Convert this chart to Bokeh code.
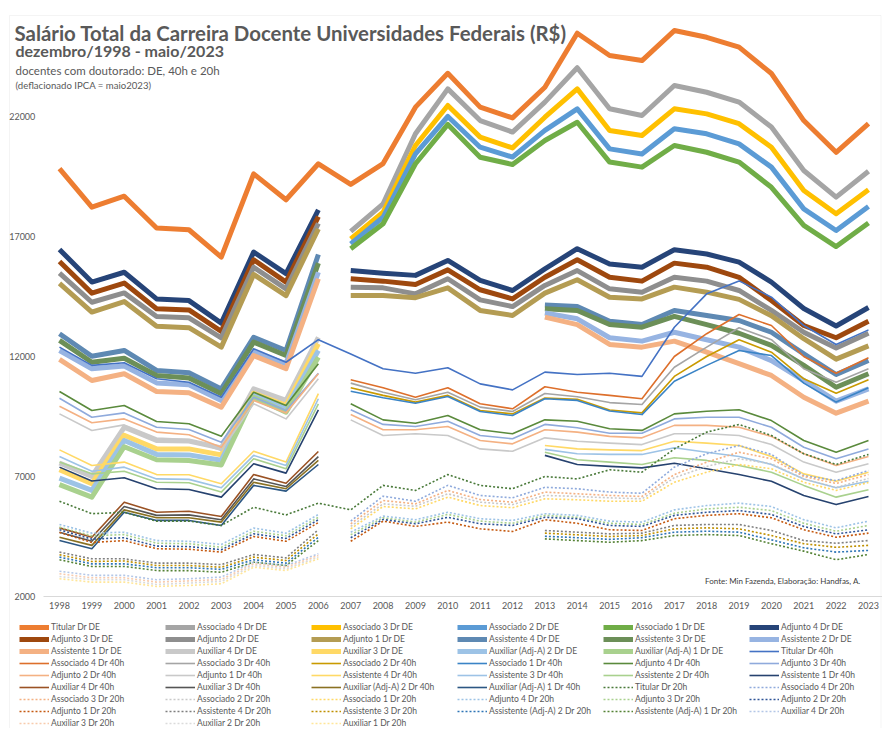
import math
from bokeh.plotting import figure
from bokeh.models import Range1d, FixedTicker, Legend, LegendItem, Label, BoxAnnotation
from bokeh.embed import file_html
from bokeh.resources import INLINE

years = list(range(1998, 2024))
N = None

# ---- DE (dedicação exclusiva) ----
titular_de = [19830, 18220, 18680, 17350, 17280, 16140, 19610, 18530, 20030,
              19170, 20040, 22390, 23800, 22390, 21940, 23220, 25470, 24540, 24330, 25580, 25300, 24890, 23790, 21830, 20510, 21700]
associado4_de = [N]*9 + [17210, 18360, 21280, 23150, 21830, 21350, 22600, 24030, 22320, 22040, 23290, 23010, 22600, 21560, 19750, 18640, 19720]
associado3_de = [N]*9 + [16900, 18010, 20790, 22460, 21140, 20690, 21970, 23150, 21420, 21210, 22320, 22110, 21700, 20720, 18920, 17950, 18950]
associado2_de = [N]*9 + [16690, 17800, 20440, 22000, 20720, 20310, 21420, 22320, 20650, 20440, 21490, 21280, 20860, 19890, 18150, 17250, 18250]
associado1_de = [N]*9 + [16490, 17530, 20030, 21670, 20300, 20000, 21000, 21760, 20100, 19890, 20790, 20510, 20100, 19050, 17460, 16580, 17560]
adjunto4_de = [16460, 15100, 15510, 14400, 14330, 13390, 16350, 15450, 18110,
               15580, 15470, 15380, 16000, 15170, 14750, 15650, 16490, 15850, 15720, 16450, 16270, 15930, 15100, 14000, 13270, 14040]
adjunto3_de = [15960, 14640, 15060, 13990, 13940, 13050, 16030, 15100, 17830,
               15240, 15140, 15000, 15610, 14780, 14400, 15300, 16030, 15300, 15140, 15890, 15720, 15300, 14330, 13290, 12780, 13470]
adjunto2_de = [15470, 14260, 14650, 13670, 13610, 12780, 15720, 14820, 17550,
               14890, 14860, 14610, 15240, 14360, 14080, 14960, 15580, 14820, 14680, 15300, 15140, 14750, 13920, 13010, 12350, 12970]
adjunto1_de = [15050, 13850, 14290, 13260, 13200, 12390, 15420, 14540, 17320,
               14540, 14540, 14450, 14860, 13920, 13710, 14640, 15200, 14470, 14400, 14890, 14680, 14380, 13700, 12740, 11890, 12440]
assistente4_de = [12950, 12010, 12250, 11420, 11320, 10650, 12800, 12250, 16250] + [N]*6 + [14150, 14080, 13470, 13330, 13920, 13710, 13500, 13010, 12110, 11250, 11830]
assistente3_de = [12670, 11760, 11930, 11210, 11100, 10450, 12600, 12040, 15890] + [N]*6 + [13990, 13920, 13330, 13220, 13670, 13330, 12970, 12460, 11630, 10720, 11280]
assistente2_de = [12250, 11490, 11600, 10900, 10820, 10170, 12180, 11700, 15510] + [N]*6 + [13810, 13570, 12780, 12640, 13010, 12700, 12390, 11830, 11000, 10140, 10650]
assistente1_de = [11880, 11000, 11280, 10540, 10490, 9890, 12040, 11490, 15240] + [N]*6 + [13640, 13330, 12500, 12390, 12640, 12180, 11700, 11210, 10300, 9640, 10140]
auxiliar4_de = [7560, 7000, 9050, 8500, 8480, 8190, 10650, 10170, 12800] + [N]*17
auxiliar3_de = [7280, 6700, 8720, 8150, 8150, 7900, 10470, 9960, 12530] + [N]*17
auxiliar_adja2_de = [6930, 6420, 8500, 7920, 7900, 7680, 10380, 9820, 12250] + [N]*17
auxiliar_adja1_de = [6660, 6140, 8240, 7700, 7670, 7480, 10300, 9680, 11970] + [N]*17

# ---- 40h ----
titular_40 = [12390, 11630, 11740, 11070, 10930, 10300, 12320, 11760, 12700,
              12100, 11490, 11300, 11530, 10860, 10610, 11350, 11250, 11300, 11170, 13220, 14610, 15150, 14470, 13290, 12500, 13110]
associado4_40 = [N]*9 + [11030, 10700, 10300, 10700, 10030, 9820, 10740, 10510, 10380, 10240, 12000, 12950, 13750, 13290, 12000, 11300, 11950]
associado3_40 = [N]*9 + [10890, 10510, 10200, 10510, 9890, 9710, 10460, 10320, 10080, 10000, 11550, 12390, 13200, 12700, 11490, 10930, 11490]
associado2_40 = [N]*9 + [10700, 10380, 10100, 10380, 9750, 9610, 10270, 10220, 9770, 9650, 11170, 12000, 12700, 12180, 11070, 10470, 11030]
associado1_40 = [N]*9 + [10550, 10280, 10050, 10330, 9710, 9540, 10240, 10170, 9730, 9580, 10970, 11630, 12250, 12040, 10890, 10100, 10700]
adjunto4_40 = [10540, 9750, 9960, 9290, 9200, 8680, 10510, 9960, 11700,
               10030, 9360, 9220, 9540, 8950, 8780, 9360, 9300, 8990, 8920, 9610, 9720, 9780, 9330, 8500, 8010, 8500]
adjunto3_40 = [10260, 9470, 9650, 9050, 8960, 8430, 10300, 9750, 11300,
               9780, 9170, 9080, 9300, 8710, 8570, 9170, 9030, 8800, 8800, 9400, 9470, 9470, 9050, 8220, 7740, 8150]
adjunto2_40 = [9930, 9240, 9400, 8850, 8740, 8220, 10170, 9650, 11280,
               9580, 8950, 8950, 9080, 8500, 8360, 8950, 8850, 8670, 8610, 9130, 9130, 9050, 8670, 7950, 7460, 7830]
adjunto1_40 = [9610, 8920, 9150, 8600, 8540, 8080, 10030, 9400, 11070,
               9360, 8710, 8780, 8710, 8150, 8050, 8610, 8470, 8390, 8330, 8780, 8780, 8710, 8330, 7600, 7180, 7530]
assistente4_40 = [8110, 7460, 7600, 7080, 7070, 6700, 8050, 7600, 10450] + [N]*6 + [8290, 8150, 8110, 8080, 8470, 8390, 8290, 7830, 7110, 6800, 7180]
assistente3_40 = [7830, 7220, 7390, 6900, 6880, 6530, 7880, 7460, 10240] + [N]*6 + [8130, 7950, 7920, 7920, 8200, 8010, 7830, 7500, 6900, 6530, 6800]
assistente2_40 = [7600, 7110, 7220, 6760, 6740, 6350, 7740, 7320, 10030] + [N]*6 + [8010, 7700, 7600, 7500, 7780, 7670, 7460, 7180, 6630, 6140, 6450]
assistente1_40 = [7390, 6810, 6950, 6490, 6460, 6140, 7530, 7140, 9780] + [N]*6 + [7880, 7500, 7420, 7360, 7550, 7320, 7080, 6800, 6210, 5830, 6170]
auxiliar4_40 = [4860, 4470, 5930, 5510, 5550, 5330, 7080, 6720, 8040] + [N]*17
auxiliar3_40 = [4680, 4300, 5750, 5380, 5400, 5200, 6900, 6580, 7830] + [N]*17
auxiliar_adja2_40 = [4470, 4130, 5610, 5280, 5280, 5100, 6760, 6490, 7670] + [N]*17
auxiliar_adja1_40 = [4330, 3990, 5510, 5170, 5170, 4960, 6630, 6390, 7500] + [N]*17

# ---- 20h ----
titular_20 = [5970, 5450, 5510, 5140, 5140, 4960, 5720, 5400, 5890,
              5610, 6630, 6420, 7080, 6630, 6490, 7000, 6900, 7280, 7180, 8150, 8850, 9170, 8710, 7950, 7500, 7920]
associado4_20 = [N]*9 + [5140, 6180, 5970, 6630, 6210, 6110, 6550, 6490, 6350, 6300, 7390, 7950, 8290, 7920, 7040, 6830, 7250]
associado3_20 = [N]*9 + [5030, 6000, 5860, 6420, 6040, 5930, 6350, 6280, 6210, 6170, 7080, 7600, 8010, 7740, 7000, 6710, 7080]
associado2_20 = [N]*9 + [4920, 5860, 5760, 6280, 5930, 5830, 6210, 6170, 6110, 6070, 6950, 7420, 7740, 7530, 6900, 6540, 6920]
associado1_20 = [N]*9 + [4820, 5750, 5650, 6140, 5790, 5700, 6070, 6030, 5970, 5970, 6760, 7180, 7500, 7320, 6760, 6420, 6750]
adjunto4_20 = [5000, 4640, 4680, 4330, 4300, 4170, 4850, 4640, 5420,
               4680, 5350, 5200, 5510, 5240, 5170, 5450, 5380, 5140, 5100, 5610, 5790, 5890, 5750, 5200, 4860, 5140]
adjunto3_20 = [4890, 4530, 4580, 4220, 4200, 4050, 4720, 4530, 5300,
               4570, 5280, 5100, 5420, 5140, 5050, 5380, 5300, 5050, 5000, 5470, 5650, 5720, 5580, 5050, 4720, 4960]
adjunto2_20 = [4780, 4390, 4450, 4100, 4080, 3950, 4610, 4420, 5200,
               4450, 5210, 5030, 5300, 5030, 4960, 5300, 5240, 4960, 4920, 5380, 5510, 5580, 5420, 4920, 4610, 4780]
adjunto1_20 = [4670, 4250, 4330, 3990, 3970, 3850, 4500, 4300, 5080,
               4300, 5140, 4920, 5100, 4820, 4710, 5200, 5050, 4780, 4750, 5240, 5380, 5450, 5280, 4780, 4470, 4640]
assistente4_20 = [3850, 3570, 3570, 3390, 3390, 3330, 3750, 3610, 4780] + [N]*6 + [4750, 4680, 4610, 4640, 4960, 5000, 5000, 4750, 4330, 4220, 4330]
assistente3_20 = [3740, 3460, 3480, 3290, 3290, 3220, 3640, 3500, 4610] + [N]*6 + [4640, 4570, 4500, 4540, 4820, 4860, 4820, 4540, 4200, 4050, 4130]
assistente_adja2_20 = [3640, 3360, 3360, 3200, 3200, 3130, 3530, 3390, 4470] + [N]*6 + [4510, 4450, 4380, 4450, 4680, 4720, 4680, 4360, 4030, 3850, 3920]
assistente_adja1_20 = [3530, 3250, 3250, 3080, 3080, 3010, 3430, 3290, 4330] + [N]*6 + [4400, 4330, 4260, 4330, 4540, 4580, 4540, 4200, 3890, 3530, 3750]
auxiliar4_20 = [3050, 2880, 2880, 2700, 2740, 2810, 3430, 3290, 3780] + [N]*17
auxiliar3_20 = [2950, 2780, 2780, 2600, 2650, 2710, 3360, 3220, 3710] + [N]*17
auxiliar2_20 = [2830, 2700, 2700, 2500, 2560, 2630, 3290, 3150, 3640] + [N]*17
auxiliar1_20 = [2740, 2600, 2600, 2420, 2460, 2530, 3220, 3080, 3570] + [N]*17

y_ticks = [2000, 7000, 12000, 17000, 22000]

# name, values, colour, regime, continuous
series = [
    ("Titular Dr DE", titular_de, "#ED7D31", "DE", True),
    ("Associado 4 Dr DE", associado4_de, "#A5A5A5", "DE", False),
    ("Associado 3 Dr DE", associado3_de, "#FFC000", "DE", False),
    ("Associado 2 Dr DE", associado2_de, "#5B9BD5", "DE", False),
    ("Associado 1 Dr DE", associado1_de, "#70AD47", "DE", False),
    ("Adjunto 4 Dr DE", adjunto4_de, "#264478", "DE", False),
    ("Adjunto 3 Dr DE", adjunto3_de, "#9E480E", "DE", False),
    ("Adjunto 2 Dr DE", adjunto2_de, "#8E8E8E", "DE", False),
    ("Adjunto 1 Dr DE", adjunto1_de, "#B49C53", "DE", False),
    ("Assistente 4 Dr DE", assistente4_de, "#5E89B3", "DE", False),
    ("Assistente 3 Dr DE", assistente3_de, "#6C8F58", "DE", False),
    ("Assistente 2 Dr DE", assistente2_de, "#97B4E2", "DE", False),
    ("Assistente 1 Dr DE", assistente1_de, "#F4B183", "DE", False),
    ("Auxiliar 4 Dr DE", auxiliar4_de, "#C9C9C9", "DE", False),
    ("Auxiliar 3 Dr DE", auxiliar3_de, "#FFD966", "DE", False),
    ("Auxiliar (Adj-A) 2 Dr DE", auxiliar_adja2_de, "#9DC3E6", "DE", False),
    ("Auxiliar (Adj-A) 1 Dr DE", auxiliar_adja1_de, "#A9D18E", "DE", False),
    ("Titular Dr 40h", titular_40, "#4472C4", "40h", True),
    ("Associado 4 Dr 40h", associado4_40, "#DD6F2B", "40h", False),
    ("Associado 3 Dr 40h", associado3_40, "#A5A5A5", "40h", False),
    ("Associado 2 Dr 40h", associado2_40, "#C99A00", "40h", False),
    ("Associado 1 Dr 40h", associado1_40, "#3A84C6", "40h", False),
    ("Adjunto 4 Dr 40h", adjunto4_40, "#5A8A3C", "40h", False),
    ("Adjunto 3 Dr 40h", adjunto3_40, "#8FAADC", "40h", False),
    ("Adjunto 2 Dr 40h", adjunto2_40, "#F4B183", "40h", False),
    ("Adjunto 1 Dr 40h", adjunto1_40, "#C9C9C9", "40h", False),
    ("Assistente 4 Dr 40h", assistente4_40, "#FFD966", "40h", False),
    ("Assistente 3 Dr 40h", assistente3_40, "#9DC3E6", "40h", False),
    ("Assistente 2 Dr 40h", assistente2_40, "#A9D18E", "40h", False),
    ("Assistente 1 Dr 40h", assistente1_40, "#26426F", "40h", False),
    ("Auxiliar 4 Dr 40h", auxiliar4_40, "#9A5224", "40h", False),
    ("Auxiliar 3 Dr 40h", auxiliar3_40, "#555555", "40h", False),
    ("Auxiliar (Adj-A) 2 Dr 40h", auxiliar_adja2_40, "#8A7122", "40h", False),
    ("Auxiliar (Adj-A) 1 Dr 40h", auxiliar_adja1_40, "#2C5783", "40h", False),
    ("Titular Dr 20h", titular_20, "#4A7A3A", "20h", True),
    ("Associado 4 Dr 20h", associado4_20, "#8FAADC", "20h", False),
    ("Associado 3 Dr 20h", associado3_20, "#F4B183", "20h", False),
    ("Associado 2 Dr 20h", associado2_20, "#C9C9C9", "20h", False),
    ("Associado 1 Dr 20h", associado1_20, "#FFD966", "20h", False),
    ("Adjunto 4 Dr 20h", adjunto4_20, "#9DC3E6", "20h", False),
    ("Adjunto 3 Dr 20h", adjunto3_20, "#A9D18E", "20h", False),
    ("Adjunto 2 Dr 20h", adjunto2_20, "#2F5597", "20h", False),
    ("Adjunto 1 Dr 20h", adjunto1_20, "#C55A11", "20h", False),
    ("Assistente 4 Dr 20h", assistente4_20, "#7F7F7F", "20h", False),
    ("Assistente 3 Dr 20h", assistente3_20, "#BF9000", "20h", False),
    ("Assistente (Adj-A) 2 Dr 20h", assistente_adja2_20, "#2E75B6", "20h", False),
    ("Assistente (Adj-A) 1 Dr 20h", assistente_adja1_20, "#548235", "20h", False),
    ("Auxiliar 4 Dr 20h", auxiliar4_20, "#B4C7E7", "20h", False),
    ("Auxiliar 3 Dr 20h", auxiliar3_20, "#F8CBAD", "20h", False),
    ("Auxiliar 2 Dr 20h", auxiliar2_20, "#DBDBDB", "20h", False),
    ("Auxiliar 1 Dr 20h", auxiliar1_20, "#FFE699", "20h", False),
]

styles = {
    "DE": dict(line_width=5, line_dash="solid"),
    "40h": dict(line_width=1.6, line_dash="solid"),
    "20h": dict(line_width=1.6, line_dash="2 2"),
}

FONT = "Lato"
TXT = "#595959"

# The frame covers the whole canvas; axes are pinned inside it with fixed_location
X0, X1 = 1996.177, 2023.433
Y0, Y1 = -3500, 26833

p = figure(width=882, height=728, output_backend="svg", toolbar_location=None,
           x_range=Range1d(X0, X1), y_range=Range1d(Y0, Y1),
           min_border=0, title=None)
p.outline_line_color = None
p.xgrid.visible = False
p.ygrid.visible = False

# light chart-area border, as in the spreadsheet chart
p.add_layout(BoxAnnotation(left=9, right=880.5, top=713, bottom=-20,
                           left_units="screen", right_units="screen",
                           top_units="screen", bottom_units="screen",
                           fill_color=None, fill_alpha=0, line_color="#D9D9D9",
                           line_width=1, level="underlay"))

p.xaxis.fixed_location = 2000
p.xaxis.bounds = (1997.5, X1)
p.xaxis.ticker = FixedTicker(ticks=years)
p.xaxis.major_label_overrides = {y: str(y) for y in years}
p.xaxis.axis_line_color = "#D9D9D9"
p.xaxis.major_tick_line_color = None
p.xaxis.minor_tick_line_color = None
p.xaxis.major_tick_out = 0
p.xaxis.major_tick_in = 0
p.xaxis.major_label_text_font = FONT
p.xaxis.major_label_text_font_size = "9px"
p.xaxis.major_label_text_color = TXT
p.xaxis.major_label_standoff = 6

p.yaxis.fixed_location = 1997.5
p.yaxis.ticker = FixedTicker(ticks=y_ticks)
p.yaxis.axis_line_color = None
p.yaxis.major_tick_line_color = None
p.yaxis.minor_tick_line_color = None
p.yaxis.major_tick_out = 0
p.yaxis.major_tick_in = 0
p.yaxis.major_label_text_font = FONT
p.yaxis.major_label_text_font_size = "9px"
p.yaxis.major_label_text_color = TXT
p.yaxis.major_label_standoff = 8

items = []
for name, vals, color, reg, cont in series:
    yv = [float("nan") if v is None else float(v) for v in vals]
    xv = [float(y) for y in years]
    if not cont:
        xv = xv[:9] + [float("nan")] + xv[9:]
        yv = yv[:9] + [float("nan")] + yv[9:]
    r = p.line(xv, yv, line_color=color, line_join="round", line_cap="butt", **styles[reg])
    items.append(LegendItem(label=name, renderers=[r]))

legend = Legend(items=items, location=(19, 0), orientation="horizontal", ncols=6,
                glyph_width=30, glyph_height=10, label_height=10, label_width=112,
                label_standoff=2, spacing=2, padding=0, margin=0,
                border_line_color=None, background_fill_alpha=0,
                label_text_font=FONT, label_text_font_size="8.5px", label_text_color=TXT)
p.add_layout(legend, "center")

def add_text(text, x, y, size, bold=False, color=TXT, align="left", baseline="top"):
    p.add_layout(Label(x=x, y=y, x_units="screen", y_units="screen", text=text,
                       text_font=FONT, text_font_size=size,
                       text_font_style="bold" if bold else "normal",
                       text_color=color, text_align=align, text_baseline=baseline))

add_text("Salário Total da Carreira Docente Universidades Federais (R$)", 14, 708, "20.4px", bold=True)
add_text("dezembro/1998 - maio/2023", 15, 688, "16px", bold=True)
add_text("docentes com doutorado: DE, 40h e 20h", 15, 664.4, "11.5px")
add_text("(deflacionado IPCA = maio2023)", 15, 648.2, "9.6px")
add_text("Fonte: Min Fazenda, Elaboração: Handfas, A.", 860, 148, "8px", color="#404040",
         align="right", baseline="middle")

open("out.html", "w").write(file_html(p, INLINE))
